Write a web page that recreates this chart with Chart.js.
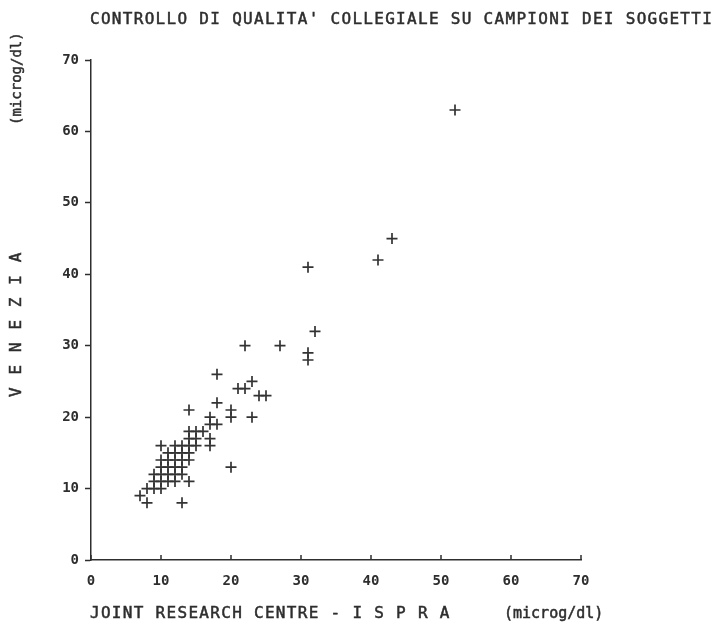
<!DOCTYPE html>
<html>
<head>
<meta charset="utf-8">
<script src="https://cdn.jsdelivr.net/npm/chart.js@4.4.1/dist/chart.umd.min.js"></script>
<style>
  body { margin: 0; background: #fff; }
  #wrap { width: 722px; height: 628px; }
</style>
</head>
<body>
<div id="wrap"><canvas id="qc"></canvas></div>
<script>
// paired measurements, microg/dl
const jrc = [
  52, 43, 41, 31, 32, 31, 31, 27, 22, 18,
  21, 22, 23, 24, 25, 23, 20, 20, 20, 14,
  18, 17, 17, 18, 16, 17, 17, 15, 14, 15, 14,
  12, 13, 14, 10, 15,
  11, 12, 13, 14,
  10, 11, 12, 13, 14,
  10, 11, 12, 13,
  9, 10, 11, 12, 13,
  9, 10, 11, 12, 14,
  8, 9, 10,
  7,
  8, 13
];
const venezia = [
  63, 45, 42, 41, 32, 29, 28, 30, 30, 26,
  24, 24, 25, 23, 23, 20, 21, 20, 13, 21,
  22, 20, 19, 19, 18, 17, 16, 18, 18, 17, 17,
  16, 16, 16, 16, 16,
  15, 15, 15, 15,
  14, 14, 14, 14, 14,
  13, 13, 13, 13,
  12, 12, 12, 12, 12,
  11, 11, 11, 11, 11,
  10, 10, 10,
  9,
  8, 8
];
const tickValues = [0, 10, 20, 30, 40, 50, 60, 70];

const titleText = "CONTROLLO DI QUALITA' COLLEGIALE SU CAMPIONI DEI SOGGETTI";
const xTitle = 'JOINT RESEARCH CENTRE - I S P R A';
const yTitle = 'V E N E Z I A';
const unitText = '(microg/dl)';

const ink = '#2e2e2e';
const mono = '"DejaVu Sans Mono", monospace';

const points = jrc.map((x, i) => ({ x: x, y: venezia[i] }));

// fill plus a thin stroke, to get the heavier pen line of a plotter
function penText(ctx, s, x, y) {
  ctx.fillText(s, x, y);
  ctx.strokeText(s, x, y);
}

// plotter-style labels and the inward tick marks on the x axis
const plotterText = {
  id: 'plotterText',
  afterDraw(chart) {
    const ctx = chart.ctx;
    const xs = chart.scales.x;
    ctx.save();
    ctx.strokeStyle = ink;
    ctx.lineWidth = 1.5;
    tickValues.forEach(v => {
      const px = xs.getPixelForValue(v);
      ctx.beginPath();
      ctx.moveTo(px, xs.top);
      ctx.lineTo(px, xs.top - 5);
      ctx.stroke();
    });

    ctx.fillStyle = ink;
    ctx.lineWidth = 0.5;
    ctx.textBaseline = 'alphabetic';
    ctx.textAlign = 'left';
    ctx.font = '16px ' + mono;
    ctx.letterSpacing = '1.3px';
    penText(ctx, titleText, 90, 24);
    penText(ctx, xTitle, 90, 618);

    ctx.font = '15px ' + mono;
    ctx.letterSpacing = '0px';
    penText(ctx, unitText, 504, 618);

    ctx.translate(21, 0);
    ctx.rotate(-Math.PI / 2);
    ctx.font = '16px ' + mono;
    ctx.letterSpacing = '1.6px';
    penText(ctx, yTitle, -397, 0);
    ctx.font = '14px ' + mono;
    ctx.letterSpacing = '0px';
    penText(ctx, unitText, -125, 0);
    ctx.restore();
  }
};

new Chart(document.getElementById('qc'), {
  type: 'scatter',
  data: {
    datasets: [{
      data: points,
      pointStyle: 'cross',
      pointRadius: 5.5,
      pointBorderWidth: 1.7,
      borderColor: '#333',
      backgroundColor: '#333'
    }]
  },
  options: {
    responsive: true,
    maintainAspectRatio: false,
    animation: false,
    layout: { padding: { left: 0, top: 60, right: 141, bottom: 0 } },
    plugins: {
      legend: { display: false },
      tooltip: { enabled: false }
    },
    scales: {
      x: {
        min: 0, max: 70,
        afterFit(scale) { scale.height = 68; },
        afterBuildTicks(scale) { scale.ticks = tickValues.map(v => ({ value: v })); },
        border: { display: true, color: ink, width: 1.5 },
        grid: { display: true, drawOnChartArea: false, drawTicks: false },
        ticks: { padding: 13, color: ink, font: { family: mono, size: 14, weight: 'bold' } }
      },
      y: {
        min: 0, max: 70,
        afterFit(scale) { scale.width = 91; },
        afterBuildTicks(scale) { scale.ticks = tickValues.map(v => ({ value: v })); },
        border: { display: true, color: ink, width: 1.5 },
        grid: { display: true, drawOnChartArea: false, tickLength: 6, tickColor: ink, tickWidth: 1.5 },
        ticks: { padding: 6, color: ink, font: { family: mono, size: 14, weight: 'bold' } }
      }
    }
  },
  plugins: [plotterText]
});
</script>
</body>
</html>
